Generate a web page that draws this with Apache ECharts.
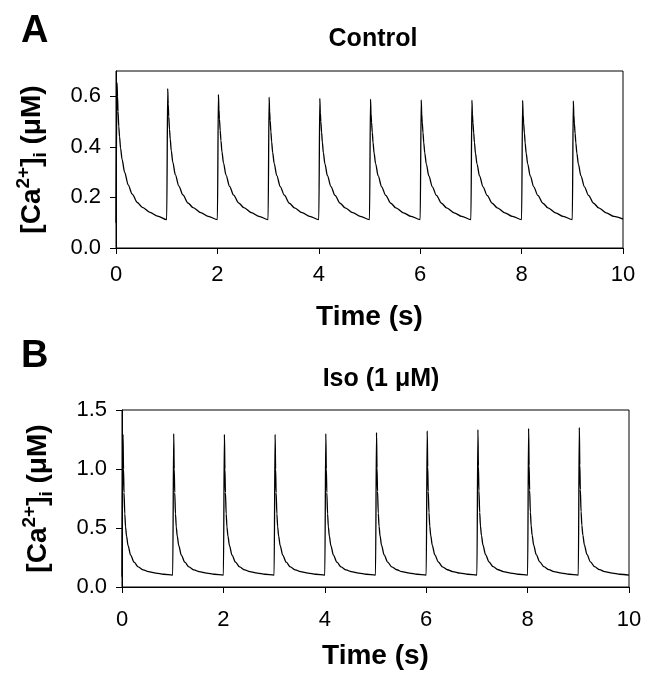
<!DOCTYPE html>
<html>
<head>
<meta charset="utf-8">
<script src="https://cdn.jsdelivr.net/npm/echarts@6/dist/echarts.min.js"></script>
<style>
  html, body { margin: 0; padding: 0; background: #fff; }
  #chart { width: 650px; height: 674px; }
</style>
</head>
<body>
<div id="chart"></div>
<script>
// time points (s), shared by both traces
const time = [
  0,
  0.02, 0.03, 0.04, 0.055, 0.07, 0.09, 0.12, 0.17, 0.24, 0.32, 0.42, 0.52, 0.67, 0.82, 1.00,
  1.02, 1.03, 1.04, 1.055, 1.07, 1.09, 1.12, 1.17, 1.24, 1.32, 1.42, 1.52, 1.67, 1.82, 2.00,
  2.02, 2.03, 2.04, 2.055, 2.07, 2.09, 2.12, 2.17, 2.24, 2.32, 2.42, 2.52, 2.67, 2.82, 3.00,
  3.02, 3.03, 3.04, 3.055, 3.07, 3.09, 3.12, 3.17, 3.24, 3.32, 3.42, 3.52, 3.67, 3.82, 4.00,
  4.02, 4.03, 4.04, 4.055, 4.07, 4.09, 4.12, 4.17, 4.24, 4.32, 4.42, 4.52, 4.67, 4.82, 5.00,
  5.02, 5.03, 5.04, 5.055, 5.07, 5.09, 5.12, 5.17, 5.24, 5.32, 5.42, 5.52, 5.67, 5.82, 6.00,
  6.02, 6.03, 6.04, 6.055, 6.07, 6.09, 6.12, 6.17, 6.24, 6.32, 6.42, 6.52, 6.67, 6.82, 7.00,
  7.02, 7.03, 7.04, 7.055, 7.07, 7.09, 7.12, 7.17, 7.24, 7.32, 7.42, 7.52, 7.67, 7.82, 8.00,
  8.02, 8.03, 8.04, 8.055, 8.07, 8.09, 8.12, 8.17, 8.24, 8.32, 8.42, 8.52, 8.67, 8.82, 9.00,
  9.02, 9.03, 9.04, 9.055, 9.07, 9.09, 9.12, 9.17, 9.24, 9.32, 9.42, 9.52, 9.67, 9.82, 10.00
];

// [Ca2+]i (uM), control
const caControl = [
  0.10,
  0.653, 0.600, 0.540, 0.480, 0.440, 0.395, 0.350, 0.300, 0.250, 0.213, 0.180, 0.161, 0.141, 0.126, 0.112,
  0.630, 0.570, 0.520, 0.470, 0.430, 0.385, 0.340, 0.290, 0.245, 0.210, 0.178, 0.160, 0.140, 0.125, 0.112,
  0.607, 0.550, 0.510, 0.465, 0.425, 0.380, 0.337, 0.288, 0.244, 0.209, 0.178, 0.160, 0.140, 0.125, 0.112,
  0.597, 0.540, 0.505, 0.460, 0.420, 0.378, 0.335, 0.287, 0.243, 0.209, 0.177, 0.159, 0.140, 0.125, 0.112,
  0.592, 0.535, 0.500, 0.458, 0.419, 0.377, 0.334, 0.286, 0.243, 0.208, 0.177, 0.159, 0.140, 0.125, 0.112,
  0.589, 0.532, 0.498, 0.457, 0.418, 0.376, 0.334, 0.286, 0.242, 0.208, 0.177, 0.159, 0.139, 0.125, 0.112,
  0.586, 0.530, 0.497, 0.456, 0.417, 0.376, 0.333, 0.285, 0.242, 0.208, 0.177, 0.159, 0.139, 0.125, 0.112,
  0.585, 0.529, 0.496, 0.455, 0.417, 0.375, 0.333, 0.285, 0.242, 0.208, 0.177, 0.159, 0.139, 0.125, 0.112,
  0.584, 0.528, 0.495, 0.455, 0.416, 0.375, 0.333, 0.285, 0.242, 0.208, 0.177, 0.159, 0.139, 0.125, 0.112,
  0.582, 0.527, 0.494, 0.454, 0.416, 0.375, 0.332, 0.285, 0.242, 0.208, 0.177, 0.159, 0.139, 0.125, 0.114
];

// [Ca2+]i (uM), Iso 1 uM
const caIso = [
  0.087,
  1.294, 1.000, 0.800, 0.620, 0.510, 0.430, 0.350, 0.270, 0.210, 0.170, 0.145, 0.130, 0.117, 0.108, 0.100,
  1.300, 1.000, 0.800, 0.620, 0.510, 0.430, 0.350, 0.270, 0.210, 0.170, 0.145, 0.130, 0.117, 0.108, 0.100,
  1.294, 1.000, 0.800, 0.620, 0.510, 0.430, 0.350, 0.270, 0.210, 0.170, 0.145, 0.130, 0.117, 0.108, 0.100,
  1.294, 1.000, 0.800, 0.620, 0.510, 0.430, 0.350, 0.270, 0.210, 0.170, 0.145, 0.130, 0.117, 0.108, 0.100,
  1.300, 1.000, 0.800, 0.620, 0.510, 0.430, 0.350, 0.270, 0.210, 0.170, 0.145, 0.130, 0.117, 0.108, 0.100,
  1.311, 1.010, 0.810, 0.625, 0.515, 0.432, 0.352, 0.272, 0.211, 0.171, 0.146, 0.130, 0.117, 0.108, 0.100,
  1.322, 1.020, 0.810, 0.630, 0.515, 0.435, 0.353, 0.273, 0.212, 0.171, 0.146, 0.131, 0.117, 0.108, 0.100,
  1.333, 1.025, 0.815, 0.632, 0.518, 0.436, 0.354, 0.274, 0.212, 0.172, 0.146, 0.131, 0.118, 0.108, 0.100,
  1.345, 1.030, 0.820, 0.635, 0.520, 0.438, 0.355, 0.275, 0.213, 0.172, 0.147, 0.131, 0.118, 0.108, 0.100,
  1.353, 1.035, 0.825, 0.638, 0.522, 0.440, 0.356, 0.276, 0.213, 0.172, 0.147, 0.131, 0.118, 0.108, 0.100
];

const timeTicks = [0, 2, 4, 6, 8, 10];
const controlTicks = [0, 0.2, 0.4, 0.6];
const isoTicks = [0, 0.5, 1.0, 1.5];

const FONT = "'Liberation Sans', Arial, sans-serif";
const black = "#000";

function pairs(ys) {
  return time.map((t, i) => [t, ys[i]]);
}

function xAxisFor(gridIndex, labelMargin, nameGap) {
  return {
    type: "value",
    gridIndex: gridIndex,
    min: 0,
    max: 10,
    interval: 2,
    name: "Time (s)",
    nameLocation: "middle",
    nameGap: nameGap,
    nameTextStyle: { fontFamily: FONT, fontWeight: "bold", fontSize: 28, color: black },
    axisLine: { show: true, lineStyle: { color: black, width: 1 } },
    axisTick: { show: true, inside: false, length: 6, lineStyle: { color: black }, customValues: timeTicks },
    axisLabel: { fontFamily: FONT, fontSize: 22, color: black, margin: labelMargin, customValues: timeTicks },
    splitLine: { show: false },
  };
}

function yAxisFor(gridIndex, max, ticks, nameGap) {
  return {
    type: "value",
    gridIndex: gridIndex,
    min: 0,
    max: max,
    name: "[Ca{sup|2+}]{sub|i} (μM)",
    nameLocation: "middle",
    nameRotate: 90,
    nameGap: nameGap,
    nameTextStyle: {
      fontFamily: FONT,
      fontWeight: "bold",
      fontSize: 28,
      color: black,
      lineHeight: 36,
      rich: {
        sup: { fontFamily: FONT, fontWeight: "bold", fontSize: 19, color: black, verticalAlign: "top", lineHeight: 36 },
        sub: { fontFamily: FONT, fontWeight: "bold", fontSize: 19, color: black, verticalAlign: "bottom", lineHeight: 36 },
      },
    },
    axisLine: { show: true, lineStyle: { color: black, width: 1 } },
    axisTick: { show: true, inside: false, length: 6, lineStyle: { color: black }, customValues: ticks },
    axisLabel: {
      fontFamily: FONT,
      fontSize: 22,
      color: black,
      margin: 15,
      customValues: ticks,
      formatter: (v) => v.toFixed(1),
    },
    splitLine: { show: false },
  };
}

const chart = echarts.init(document.getElementById("chart"), null, { renderer: "canvas" });

chart.setOption({
  backgroundColor: "#fff",
  animation: false,
  title: [
    { text: "A", left: 16, top: 8, textStyle: { fontFamily: FONT, fontWeight: "bold", fontSize: 38, color: black } },
    { text: "Control", left: 368, top: 22, textAlign: "center", textStyle: { fontFamily: FONT, fontWeight: "bold", fontSize: 25, color: black } },
    { text: "B", left: 16, top: 333, textStyle: { fontFamily: FONT, fontWeight: "bold", fontSize: 38, color: black } },
    { text: "Iso (1 μM)", left: 376, top: 362, textAlign: "center", textStyle: { fontFamily: FONT, fontWeight: "bold", fontSize: 25, color: black } },
  ],
  grid: [
    { left: 116, top: 71, width: 507, height: 177, show: true, borderColor: black, borderWidth: 1, backgroundColor: "transparent" },
    { left: 122, top: 410, width: 507, height: 177, show: true, borderColor: black, borderWidth: 1, backgroundColor: "transparent" },
  ],
  xAxis: [xAxisFor(0, 16, 55), xAxisFor(1, 22, 55)],
  yAxis: [yAxisFor(0, 0.7, controlTicks, 66), yAxisFor(1, 1.5, isoTicks, 66)],
  series: [
    {
      name: "Control",
      type: "line",
      xAxisIndex: 0,
      yAxisIndex: 0,
      data: pairs(caControl),
      showSymbol: false,
      smooth: 0.3,
      smoothMonotone: "x",
      lineStyle: { color: black, width: 1.3 },
    },
    {
      name: "Iso (1 μM)",
      type: "line",
      xAxisIndex: 1,
      yAxisIndex: 1,
      data: pairs(caIso),
      showSymbol: false,
      smooth: 0.3,
      smoothMonotone: "x",
      lineStyle: { color: black, width: 1.3 },
    },
  ],
});
</script>
</body>
</html>
